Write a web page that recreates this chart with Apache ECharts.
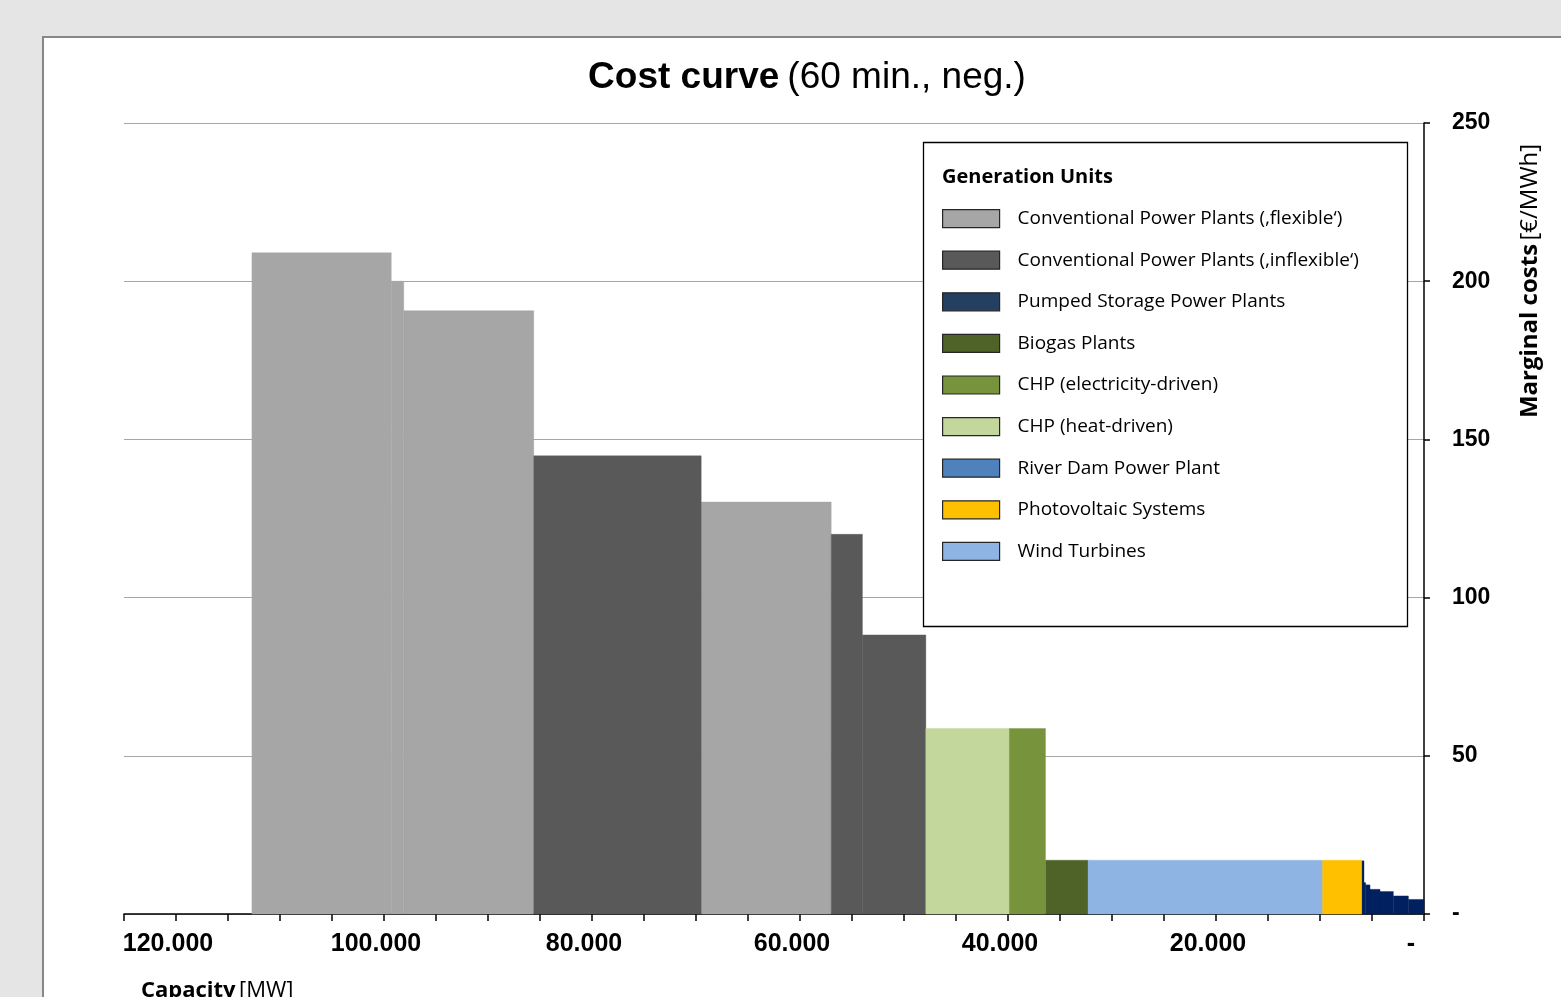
<!DOCTYPE html>
<html>
<head>
<meta charset="utf-8">
<script src="https://cdn.jsdelivr.net/npm/echarts@6/dist/echarts.min.js"></script>
<style>
html,body{margin:0;padding:0;background:#e5e5e5;}
#chart{width:1561px;height:997px;}
</style>
</head>
<body>
<div id="chart"></div>
<script>
// ---- Data ----
const unitNames = [
  'Conventional Power Plants (\u201Aflexible\u2018)',
  'Conventional Power Plants (\u201Ainflexible\u2018)',
  'Pumped Storage Power Plants',
  'Biogas Plants',
  'CHP (electricity-driven)',
  'CHP (heat-driven)',
  'River Dam Power Plant',
  'Photovoltaic Systems',
  'Wind Turbines'
];
const unitColors = ['#A6A6A6','#595959','#002060','#4F6228','#77933C','#C3D69B','#4F81BD','#FFC000','#8EB4E3'];
const legendColors = ['#A6A6A6','#595959','#243F60','#4F6228','#77933C','#C3D69B','#4F81BD','#FFC000','#8EB4E3'];

// merit-order segments: capacity from / to [MW], marginal cost [€/MWh], unit index
const segFrom = [0, 1500, 2950, 4230, 5190, 5610, 5770, 6000, 9800, 32300, 36400, 39900, 47900, 54000, 57000, 69500, 85600, 98100, 99300];
const segTo   = [1500, 2950, 4230, 5190, 5610, 5770, 6000, 9800, 32300, 36400, 39900, 47900, 54000, 57000, 69500, 85600, 98100, 99300, 112700];
const segCost = [4.6, 5.7, 7.1, 7.8, 9.2, 9.9, 16.8, 17.0, 17.0, 17.0, 58.6, 58.6, 88.2, 120.0, 130.2, 144.8, 190.7, 200.0, 209.0];
const segUnit = [2, 2, 2, 2, 2, 2, 2, 7, 8, 3, 4, 5, 1, 1, 0, 1, 0, 0, 0];

const xMax = 125000, xStep = 5000, xLabelStep = 20000;
const yMax = 250, yStep = 50;

// ---- Chart ----
const chart = echarts.init(document.getElementById('chart'));

const series = unitNames.map((name, u) => {
  const data = [];
  segUnit.forEach((su, i) => { if (su === u) data.push([segFrom[i], segTo[i], segCost[i]]); });
  return {
    type: 'custom',
    name: name,
    itemStyle: { color: unitColors[u] },
    encode: { x: [0, 1], y: 2 },
    data: data,
    z: 2,
    renderItem: function (params, api) {
      const p0 = api.coord([api.value(0), api.value(2)]);
      const p1 = api.coord([api.value(1), 0]);
      const x = Math.min(p0[0], p1[0]);
      const w = Math.abs(p1[0] - p0[0]);
      return {
        type: 'rect',
        shape: { x: x, y: p0[1], width: w, height: p1[1] - p0[1] },
        style: { fill: unitColors[u], stroke: unitColors[u], lineWidth: 0.4 }
      };
    }
  };
});

const labelFont = 'Liberation Sans, Arial, sans-serif';
const calFont = '"Open Sans", Lato, sans-serif';

const option = {
  backgroundColor: '#e5e5e5',
  animation: false,
  title: {
    text: '{b|Cost curve} {r|(60 min., neg.)}',
    left: 802,
    textAlign: 'center',
    top: 54,
    textStyle: {
      rich: {
        b: { fontFamily: labelFont, fontWeight: 'bold', fontSize: 37, color: '#000' },
        r: { fontFamily: labelFont, fontWeight: 'normal', fontSize: 37, color: '#000', padding: [0, 0, 0, 3] }
      }
    }
  },
  grid: { left: 124, right: 137, top: 123, bottom: 83 },
  xAxis: {
    type: 'value',
    min: 0, max: xMax, interval: xStep,
    inverse: true,
    axisLine: { show: true, lineStyle: { color: '#000', width: 1.5 } },
    axisTick: { show: true, length: 7, lineStyle: { color: '#000', width: 1.5 } },
    splitLine: { show: false },
    axisLabel: {
      margin: 18,
      fontFamily: labelFont, fontWeight: 'bold', fontSize: 25, color: '#000',
      padding: [0, 16, 0, 0],
      showMinLabel: true, showMaxLabel: true,
      formatter: function (v) {
        if (v === 0) return '{z|-}';
        if (v % xLabelStep === 0) return (v / 1000).toFixed(0) + '.000';
        return '';
      },
      rich: { z: { fontFamily: labelFont, fontWeight: 'bold', fontSize: 25, color: '#000', padding: [0, 10, 0, 0] } }
    }
  },
  yAxis: {
    type: 'value',
    position: 'right',
    min: 0, max: yMax, interval: yStep,
    axisLine: { show: true, lineStyle: { color: '#000', width: 1.5 } },
    axisTick: { show: true, inside: false, length: 6, lineStyle: { color: '#000', width: 1.5 } },
    splitLine: { show: true, lineStyle: { color: '#a6a6a6', width: 1 } },
    axisLabel: {
      margin: 28,
      fontFamily: labelFont, fontWeight: 'bold', fontSize: 23, color: '#000',
      padding: [4, 0, 0, 0],
      formatter: function (v) { return v === 0 ? '-' : String(v); }
    }
  },
  legend: {
    orient: 'vertical',
    left: 942, top: 209,
    padding: 0,
    icon: 'rect',
    itemWidth: 57, itemHeight: 18,
    itemGap: 22.4,
    selectedMode: false,
    itemStyle: { borderColor: '#262626', borderWidth: 1.2 },
    textStyle: { fontFamily: calFont, fontSize: 19, color: '#000', lineHeight: 18, padding: [0, 0, 0, 13] },
    data: unitNames.map((n, i) => ({ name: n, itemStyle: { color: legendColors[i] } })),
    z: 6
  },
  graphic: [
    { type: 'rect', z: -10, silent: true,
      shape: { x: 43, y: 37, width: 1600, height: 1100 },
      style: { fill: '#ffffff', stroke: '#878787', lineWidth: 2 } },
    { type: 'rect', z: 5, silent: true,
      shape: { x: 923.5, y: 142.5, width: 484, height: 484 },
      style: { fill: '#ffffff', stroke: '#000000', lineWidth: 1.3 } },
    { type: 'text', z: 6, silent: true, x: 942, y: 177,
      style: { text: 'Generation Units', fontFamily: calFont, fontWeight: 'bold', fontSize: 20, fill: '#000', textVerticalAlign: 'middle' } },
    { type: 'text', z: 6, silent: true, x: 1530, y: 281, rotation: Math.PI / 2,
      style: { text: '{b|Marginal costs} {r|[\u20AC/MWh]}', textAlign: 'center', textVerticalAlign: 'middle',
        rich: {
          b: { fontFamily: calFont, fontWeight: 'bold', fontSize: 24, fill: '#000' },
          r: { fontFamily: calFont, fontWeight: 'normal', fontSize: 24, fill: '#000' }
        } } },
    { type: 'text', z: 6, silent: true, x: 141, y: 991,
      style: { text: '{b|Capacity} {r|[MW]}', textVerticalAlign: 'middle',
        rich: {
          b: { fontFamily: calFont, fontWeight: 'bold', fontSize: 22, fill: '#000' },
          r: { fontFamily: calFont, fontWeight: 'normal', fontSize: 22, fill: '#000' }
        } } }
  ],
  series: series
};
chart.setOption(option);
</script>
</body>
</html>
